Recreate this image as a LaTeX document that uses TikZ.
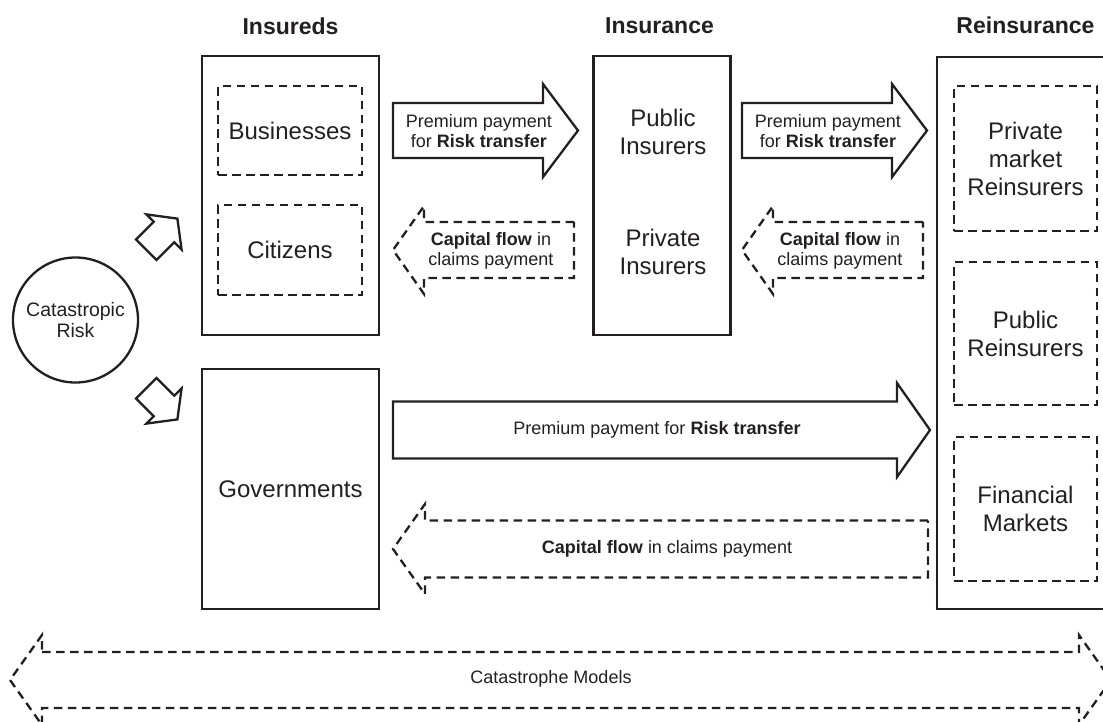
\documentclass[tikz,border=0pt]{standalone}
\usepackage{fontspec}
\setmainfont{Liberation Sans}
\definecolor{ink}{HTML}{231F20}
\begin{document}
\begin{tikzpicture}[x=1pt,y=-1pt,
  solid line/.style={draw=ink, line width=2.3pt},
  dash line/.style={draw=ink, line width=2.3pt, dash pattern=on 8.5pt off 5.5pt},
  bigbox/.style={solid line, rectangle, inner sep=0pt, text=ink, font=\fontsize{24}{28}\selectfont, align=center},
  dashbox/.style={dash line, rectangle, inner sep=0pt, text=ink, font=\fontsize{24}{28}\selectfont, align=center},
  hdr/.style={text=ink, inner sep=0pt, font=\fontsize{23}{26}\selectfont\bfseries},
  lbl/.style={text=ink, inner sep=0pt, align=center, font=\fontsize{24}{28}\selectfont},
  sml/.style={text=ink, inner sep=0pt, align=center, font=\fontsize{18}{20}\selectfont},
]
\useasboundingbox (0,0) rectangle (1103,721);
\clip (0,0) rectangle (1103,721);

% headers
\node[hdr] (hIns) at (290.5,26) {Insureds};
\node[hdr] (hInsu) at (659.5,26) {Insurance};
\node[hdr] (hRe) at (1025.5,25) {Reinsurance};

% insureds
\node[bigbox, minimum width=177, minimum height=279] (insTop) at (290.5,195.5) {};
\node[dashbox, minimum width=144, minimum height=89] (bus) at (290,130.5) {Businesses};
\node[dashbox, minimum width=144, minimum height=90] (cit) at (290,250) {Citizens};
\node[bigbox, minimum width=177, minimum height=240] (gov) at (290.5,489) {Governments};

% insurance
\node[bigbox, minimum width=137, minimum height=279] (insu) at (662,195.5) {};
\node[lbl] (pubIns) at (663,132) {Public\\Insurers};
\node[lbl] (privIns) at (663,252) {Private\\Insurers};

% reinsurance
\node[bigbox, minimum width=180, minimum height=552] (re) at (1027,333) {};
\node[dashbox, minimum width=143, minimum height=145] (privRe) at (1025.5,158.5) {Private\\market\\Reinsurers};
\node[dashbox, minimum width=143, minimum height=143] (pubRe) at (1025.5,333.5) {Public\\Reinsurers};
\node[dashbox, minimum width=143, minimum height=144] (fin) at (1025.5,509) {Financial\\Markets};

% catastrophic risk
\node[solid line, circle, minimum size=125, inner sep=0pt, text=ink, align=center,
      font=\fontsize{19.5}{21}\selectfont] (risk) at (75.5,320) {Catastropic\\Risk};

% small block arrows from the risk
\draw[solid line] (136,239.4) -- (153.7,221.7) -- (146.4,214.4) -- (177.4,218.6)
  -- (181.6,249.6) -- (174.3,242.3) -- (156.6,260) -- cycle;
\draw[solid line] (136,398.6) -- (153.7,416.3) -- (146.4,423.6) -- (177.4,419.4)
  -- (181.6,388.4) -- (174.3,395.7) -- (156.6,378) -- cycle;

% premium arrow 1
\draw[solid line] (393,103) -- (543,103) -- (543,84) -- (578,130.5) -- (543,177) -- (543,158) -- (393,158) -- cycle;
\node[sml] (prem1) at (479,131) {Premium payment\\for \textbf{Risk transfer}};
% premium arrow 2
\draw[solid line] (742,103) -- (892,103) -- (892,84) -- (927,130.5) -- (892,177) -- (892,158) -- (742,158) -- cycle;
\node[sml] (prem2) at (828,131) {Premium payment\\for \textbf{Risk transfer}};

% capital arrow 1
\draw[dash line] (574,222) -- (424,222) -- (424,206) -- (393,250) -- (424,294) -- (424,278) -- (574,278) -- cycle;
\node[sml] (cap1) at (491,251) {\textbf{Capital flow} in\\claims payment};
% capital arrow 2
\draw[dash line] (923,222) -- (773,222) -- (773,206) -- (742,250) -- (773,294) -- (773,278) -- (923,278) -- cycle;
\node[sml] (cap2) at (840,251) {\textbf{Capital flow} in\\claims payment};

% long premium arrow
\draw[solid line] (393,401.5) -- (897,401.5) -- (897,383) -- (930,430) -- (897,477) -- (897,458.5) -- (393,458.5) -- cycle;
\node[sml] (prem3) at (657,430) {Premium payment for \textbf{Risk transfer}};

% long capital arrow
\draw[dash line] (928,520.5) -- (425,520.5) -- (425,504) -- (393,549) -- (425,594) -- (425,577.5) -- (928,577.5) -- cycle;
\node[sml] (cap3) at (667,549) {\textbf{Capital flow} in claims payment};

% catastrophe models
\draw[dash line] (42,652) -- (1079,652) -- (1079,635) -- (1111,680) -- (1079,725) -- (1079,708)
  -- (42,708) -- (42,725) -- (10,680) -- (42,635) -- cycle;
\node[sml] (cm) at (551,679) {Catastrophe Models};
\end{tikzpicture}
\end{document}
